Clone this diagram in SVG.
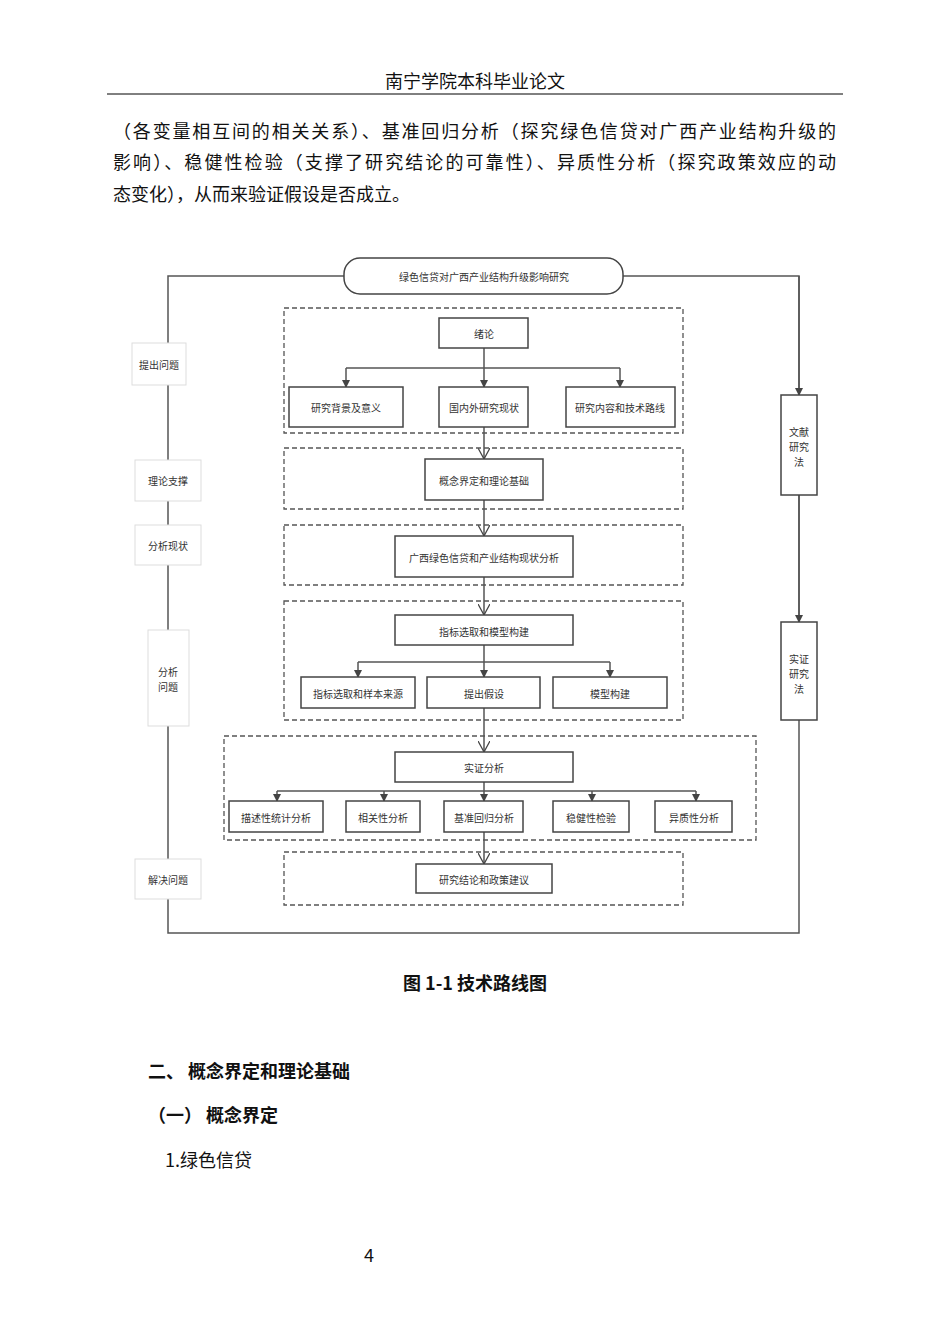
<svg xmlns="http://www.w3.org/2000/svg" width="950" height="1344" viewBox="0 0 950 1344">
<style>
.t{font-family:"Noto Sans CJK SC","Noto Sans",sans-serif;font-size:10px;fill:#333;text-anchor:middle;dominant-baseline:central}
.p{font-family:"Noto Sans CJK SC",sans-serif;font-size:18px;fill:#111}
.b{fill:#fff;stroke:#444;stroke-width:1.5}
.g{fill:none;stroke:#555;stroke-width:1.3;stroke-dasharray:5 3}
.l{fill:#fff;stroke:#ddd;stroke-width:1}
.c{fill:none;stroke:#555;stroke-width:1.5}
</style>
<defs>
<marker id="f" markerWidth="8" markerHeight="8" refX="7" refY="4" orient="auto" markerUnits="userSpaceOnUse"><path d="M0,0L8,4L0,8z" fill="#444"/></marker>
<marker id="v" markerWidth="12" markerHeight="12" refX="11" refY="6" orient="auto" markerUnits="userSpaceOnUse"><path d="M0,0L11,6L0,12" fill="none" stroke="#444" stroke-width="1.3"/></marker>
</defs>
<rect width="950" height="1344" fill="#fff"/>
<text x="475" y="88" class="p" text-anchor="middle" font-size="19">南宁学院本科毕业论文</text>
<line x1="107" y1="94" x2="843" y2="94" stroke="#000" stroke-width="1"/>
<text x="113" y="138" class="p" textLength="723">（各变量相互间的相关关系）、基准回归分析（探究绿色信贷对广西产业结构升级的</text>
<text x="113" y="169" class="p" textLength="723">影响）、稳健性检验（支撑了研究结论的可靠性）、异质性分析（探究政策效应的动</text>
<text x="113" y="201" class="p">态变化），从而来验证假设是否成立。</text>

<g id="connectors">
<path class="c" d="M344,276H168V933H799V276H623"/>
<path class="c" d="M799,276V395" marker-end="url(#f)"/>
<path class="c" d="M799,495V622" marker-end="url(#f)"/>
<path class="c" d="M484,348V387" marker-end="url(#f)"/>
<path class="c" d="M346,368H620"/>
<path class="c" d="M346,368V387" marker-end="url(#f)"/>
<path class="c" d="M620,368V387" marker-end="url(#f)"/>
<path class="c" d="M484,427V459" marker-end="url(#v)"/>
<path class="c" d="M484,500V536" marker-end="url(#v)"/>
<path class="c" d="M484,577V615" marker-end="url(#v)"/>
<path class="c" d="M484,645V677" marker-end="url(#f)"/>
<path class="c" d="M358,662H610"/>
<path class="c" d="M358,662V677" marker-end="url(#f)"/>
<path class="c" d="M610,662V677" marker-end="url(#f)"/>
<path class="c" d="M484,708V752" marker-end="url(#v)"/>
<path class="c" d="M484,782V801" marker-end="url(#f)"/>
<path class="c" d="M277,791H696"/>
<path class="c" d="M277,791V801" marker-end="url(#f)"/>
<path class="c" d="M384,791V801" marker-end="url(#f)"/>
<path class="c" d="M592,791V801" marker-end="url(#f)"/>
<path class="c" d="M696,791V801" marker-end="url(#f)"/>
<path class="c" d="M484,832V864" marker-end="url(#v)"/>
</g>

<g id="groups">
<rect class="g" x="284" y="308" width="399" height="125"/>
<rect class="g" x="284" y="448" width="399" height="61"/>
<rect class="g" x="284" y="525" width="399" height="60"/>
<rect class="g" x="284" y="601" width="399" height="119"/>
<rect class="g" x="224" y="736" width="532" height="104"/>
<rect class="g" x="284" y="852" width="399" height="53"/>
</g>

<g id="title"><rect class="b" x="344" y="258" width="279" height="36" rx="16"/><text class="t" x="484" y="276">绿色信贷对广西产业结构升级影响研究</text></g>
<g id="side1"><rect class="l" x="132" y="343" width="54" height="42"/><text class="t" x="159" y="364">提出问题</text></g>
<g id="side2"><rect class="l" x="135" y="460" width="66" height="41"/><text class="t" x="168" y="480">理论支撑</text></g>
<g id="side3"><rect class="l" x="135" y="525" width="66" height="40"/><text class="t" x="168" y="545">分析现状</text></g>
<g id="side4"><rect class="l" x="148" y="630" width="41" height="96"/><text class="t" x="168" y="671">分析</text><text class="t" x="168" y="686">问题</text></g>
<g id="side5"><rect class="l" x="135" y="859" width="66" height="40"/><text class="t" x="168" y="879">解决问题</text></g>
<g id="m1"><rect class="b" x="781" y="395" width="36" height="100"/><text class="t" x="799" y="431">文献</text><text class="t" x="799" y="446">研究</text><text class="t" x="799" y="461">法</text></g>
<g id="m2"><rect class="b" x="781" y="622" width="36" height="98"/><text class="t" x="799" y="658">实证</text><text class="t" x="799" y="673">研究</text><text class="t" x="799" y="688">法</text></g>

<g id="n1"><rect class="b" x="439" y="318" width="89" height="30"/><text class="t" x="484" y="333">绪论</text></g>
<g id="n2"><rect class="b" x="289" y="387" width="114" height="40"/><text class="t" x="346" y="407">研究背景及意义</text></g>
<g id="n3"><rect class="b" x="439" y="387" width="89" height="40"/><text class="t" x="484" y="407">国内外研究现状</text></g>
<g id="n4"><rect class="b" x="566" y="387" width="109" height="40"/><text class="t" x="620" y="407">研究内容和技术路线</text></g>
<g id="n5"><rect class="b" x="425" y="459" width="118" height="41"/><text class="t" x="484" y="480">概念界定和理论基础</text></g>
<g id="n6"><rect class="b" x="395" y="536" width="178" height="41"/><text class="t" x="484" y="557">广西绿色信贷和产业结构现状分析</text></g>
<g id="n7"><rect class="b" x="395" y="615" width="178" height="30"/><text class="t" x="484" y="631">指标选取和模型构建</text></g>
<g id="n8"><rect class="b" x="301" y="677" width="114" height="31"/><text class="t" x="358" y="693">指标选取和样本来源</text></g>
<g id="n9"><rect class="b" x="427" y="677" width="113" height="31"/><text class="t" x="484" y="693">提出假设</text></g>
<g id="n10"><rect class="b" x="553" y="677" width="114" height="31"/><text class="t" x="610" y="693">模型构建</text></g>
<g id="n11"><rect class="b" x="395" y="752" width="178" height="30"/><text class="t" x="484" y="767">实证分析</text></g>
<g id="n12"><rect class="b" x="229" y="801" width="94" height="31"/><text class="t" x="276" y="817">描述性统计分析</text></g>
<g id="n13"><rect class="b" x="346" y="801" width="74" height="31"/><text class="t" x="383" y="817">相关性分析</text></g>
<g id="n14"><rect class="b" x="444" y="801" width="79" height="31"/><text class="t" x="484" y="817">基准回归分析</text></g>
<g id="n15"><rect class="b" x="553" y="801" width="76" height="31"/><text class="t" x="591" y="817">稳健性检验</text></g>
<g id="n16"><rect class="b" x="655" y="801" width="77" height="31"/><text class="t" x="694" y="817">异质性分析</text></g>
<g id="n17"><rect class="b" x="416" y="864" width="136" height="29"/><text class="t" x="484" y="879">研究结论和政策建议</text></g>

<text x="475" y="990" class="p" text-anchor="middle" font-size="15" font-weight="bold">图 1-1  技术路线图</text>
<text x="148" y="1078" class="p" font-size="17" font-weight="bold">二、  概念界定和理论基础</text>
<text x="148" y="1122" class="p" font-size="17" font-weight="bold">（一）  概念界定</text>
<text x="165" y="1167" class="p" font-size="18">1.绿色信贷</text>
<text x="364" y="1262" class="p" font-size="13" font-family="Liberation Serif,serif">4</text>
</svg>
